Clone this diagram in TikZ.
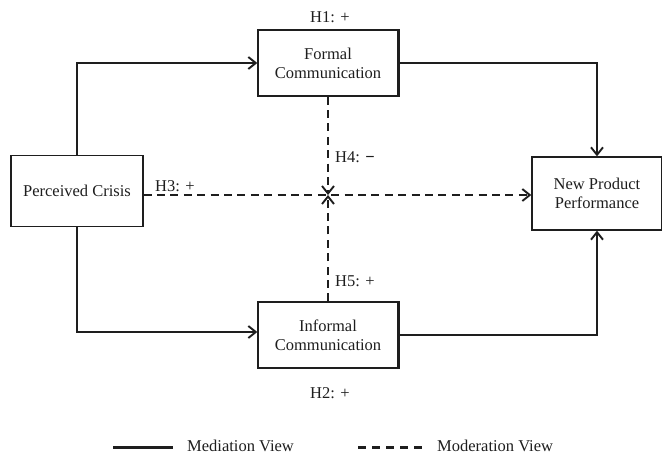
\documentclass[tikz,border=0pt]{standalone}
\usepackage{fontspec}
\setmainfont{Liberation Serif}
\usetikzlibrary{arrows.meta}
\definecolor{ink}{HTML}{1E1E1E}
\tikzset{
  box/.style={draw=ink, line width=1.3pt, align=center, inner sep=0pt,
    font=\fontsize{16.5}{19}\selectfont, text=ink},
  lab/.style={font=\fontsize{16.5}{19}\selectfont, text=ink, inner sep=0pt},
  med/.style={draw=ink, line width=2.2pt, -{Straight Barb[length=7.5pt,width=12pt,line width=1.9pt]}},
  mod/.style={draw=ink, line width=2.2pt, dash pattern=on 8pt off 5.4pt,
    -{Straight Barb[length=7.5pt,width=12pt,line width=1.9pt]}},
}
\begin{document}
\begin{tikzpicture}[x=1pt,y=-1pt]
\useasboundingbox (0,0) rectangle (662,458);
\node[box, minimum width=140pt, minimum height=66pt] (formal) at (328,63) {Formal\\Communication};
\node[box, minimum width=140pt, minimum height=66pt] (informal) at (328,335) {Informal\\Communication};
\node[box, minimum width=132pt, minimum height=71pt] (crisis) at (77,191) {Perceived Crisis};
\node[box, minimum width=130pt, minimum height=73pt] (npp) at (597,193.5) {New Product\\Performance};
% thicker right edges
\draw[ink, line width=2.2pt] (formal.north east) -- (formal.south east);
\draw[ink, line width=2.2pt] (informal.north east) -- (informal.south east);
\coordinate (j) at (328,195);
% mediation paths
\draw[med] (crisis.north) |- (formal.west);
\draw[med] (crisis.south) |- ([yshift=3pt]informal.west);
\draw[med] (formal.east) -| (npp.north);
\draw[med] (informal.east) -| (npp.south);
% moderation paths
\draw[mod] (crisis.east |- j) -- (npp.west |- j);
\draw[mod] (formal.south) -- (j);
\draw[mod] (informal.north) -- (j);
% labels
\node[lab] (h1) at (330,17) {H1: +};
\node[lab] (h2) at (330,393) {H2: +};
\node[lab] (h3) at (175,186) {H3: +};
\node[lab, anchor=west] (h4) at (335,157) {H4: \textbf{−}};
\node[lab, anchor=west] (h5) at (335,281) {H5: +};
% legend
\coordinate (l1a) at (113,447.5);
\coordinate (l1b) at (173,447.5);
\draw[ink, line width=2.2pt] (l1a) -- (l1b);
\node[lab, anchor=west] (medlab) at (187,446) {Mediation View};
\coordinate (l2a) at (358,447.5);
\coordinate (l2b) at (425,447.5);
\draw[ink, line width=2.2pt, dash pattern=on 8pt off 6pt] (l2a) -- (l2b);
\node[lab, anchor=west] (modlab) at (437,446) {Moderation View};
\end{tikzpicture}
\end{document}
